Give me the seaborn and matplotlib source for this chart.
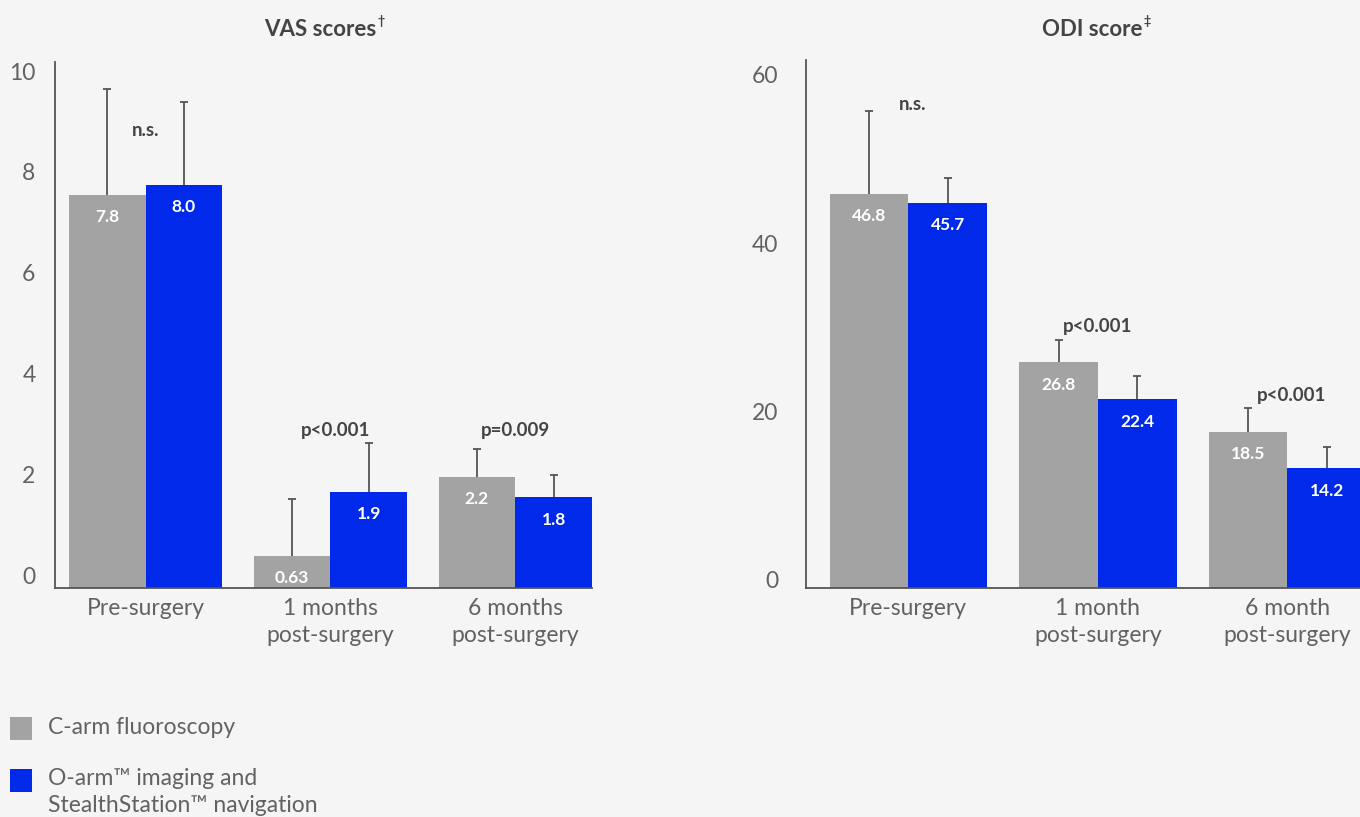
import numpy as np
import pandas as pd
import seaborn as sns
import matplotlib.pyplot as plt
from matplotlib.patches import Rectangle
from matplotlib.transforms import ScaledTranslation

sns.set_theme(style="white")
plt.rcParams["font.family"] = ["Lato", "DejaVu Sans"]

# ---- data -------------------------------------------------------------
groups = ["C-arm fluoroscopy", "O-arm\u2122 imaging and\nStealthStation\u2122 navigation"]

vas_periods = ["Pre-surgery", "1 months\npost-surgery", "6 months\npost-surgery"]
vas_carm = [7.8, 0.63, 2.2]
vas_oarm = [8.0, 1.9, 1.8]
vas_carm_err = [2.1, 1.13, 0.56]
vas_oarm_err = [1.65, 0.97, 0.45]
vas_pvalues = ["n.s.", "p<0.001", "p=0.009"]
vas_ticks = [0, 2, 4, 6, 8, 10]

odi_periods = ["Pre-surgery", "1 month\npost-surgery", "6 month\npost-surgery"]
odi_carm = [46.8, 26.8, 18.5]
odi_oarm = [45.7, 22.4, 14.2]
odi_carm_err = [9.9, 2.7, 2.9]
odi_oarm_err = [3.0, 2.8, 2.5]
odi_pvalues = ["n.s.", "p<0.001", "p<0.001"]
odi_ticks = [0, 20, 40, 60]

GRAY = "#a3a3a3"
BLUE = "#0029ea"
BG = "#f5f5f5"
INK = "#626262"
AXIS = "#555555"
DARK = "#444444"

W, H = 1360, 817
fig = plt.figure(figsize=(W / 100, H / 100), dpi=100)
fig.patch.set_facecolor(BG)


def fmt_value(v):
    s = f"{v:.2f}"
    return s[:-1] if s.endswith("0") else s


def draw_panel(ax, periods, carm, oarm, carm_err, oarm_err, pvals, p_pos,
               ticks, xlim, ylim, ytick_pad, ylabel_lift):
    df = pd.DataFrame({
        "period": periods * 2,
        "group": [groups[0]] * len(periods) + [groups[1]] * len(periods),
        "score": carm + oarm,
    })
    sns.barplot(data=df, x="period", y="score", hue="group",
                palette=[GRAY, BLUE], saturation=1, width=0.83,
                errorbar=None, legend=False, linewidth=0, ax=ax)
    ax.set_facecolor(BG)

    for container, errs in zip(ax.containers, [carm_err, oarm_err]):
        for bar, e in zip(container, errs):
            x = bar.get_x() + bar.get_width() / 2
            h = bar.get_height()
            eb = ax.errorbar(x, h, yerr=[[0], [e]], fmt="none", ecolor=AXIS,
                             elinewidth=1.3, capsize=3, capthick=1.3, zorder=1)
            # one-sided whisker: hide the cap sitting on the bar top
            eb[1][0].set_visible(False)
            ax.annotate(fmt_value(h), (x, h), xytext=(0, -16),
                        textcoords="offset points", ha="center", va="center",
                        color="white", fontsize=12.5, fontweight="bold",
                        clip_on=True)

    for i, (txt, (dx, y)) in enumerate(zip(pvals, p_pos)):
        ax.text(i + dx, y, txt, ha="center", va="center", color=DARK,
                fontsize=13.5, fontweight="bold")

    ax.set_xlim(*xlim)
    ax.set_ylim(*ylim)
    ax.set_yticks(ticks)
    ax.set_xlabel("")
    ax.set_ylabel("")
    ax.tick_params(axis="y", length=0, pad=ytick_pad, labelsize=16.5,
                   labelcolor=INK)
    ax.tick_params(axis="x", length=0, pad=7, labelsize=16.5, labelcolor=INK)
    for lab in ax.get_yticklabels():
        lab.set_transform(lab.get_transform() +
                          ScaledTranslation(0, ylabel_lift / 100,
                                            fig.dpi_scale_trans))
    for lab in ax.get_xticklabels():
        lab.set_linespacing(1.38)
    sns.despine(ax=ax)
    for side in ("left", "bottom"):
        ax.spines[side].set_color(AXIS)
        ax.spines[side].set_linewidth(1.3)


# VAS panel
ax1 = fig.add_axes([55 / W, (H - 588) / H, 537 / W, 526 / H])
draw_panel(ax1, vas_periods, vas_carm, vas_oarm, vas_carm_err, vas_oarm_err,
           vas_pvalues, [(0, 9.09), (0.03, 3.13), (0, 3.13)],
           vas_ticks, (-0.49, 2.415), (0, 10.44), 14, 13)

# ODI panel
ax2 = fig.add_axes([806 / W, (H - 588) / H, 554 / W, 528 / H])
draw_panel(ax2, odi_periods, odi_carm, odi_oarm, odi_carm_err, odi_oarm_err,
           odi_pvalues, [(0.02, 57.4), (0.0, 31.0), (0.02, 22.8)],
           odi_ticks, (-0.54, 2.383), (0, 62.7), 20, 8)


# titles with superscript marks
def title(xc, y, main, mark):
    t = fig.text(xc / W, (H - y) / H, main, ha="center", va="center",
                 fontsize=16, fontweight="bold", color=DARK)
    fig.canvas.draw()
    bb = t.get_window_extent()
    fig.text(bb.x1 / W + 1 / W, (H - y + 3) / H, mark, ha="left",
             va="bottom", fontsize=9, fontweight="bold", color=DARK)


title(320, 30, "VAS scores", "\u2020")
title(1092, 30, "ODI score", "\u2021")

# legend
fig.add_artist(Rectangle((10 / W, (H - 740) / H), 22 / W, 23 / H,
                         transform=fig.transFigure, color=GRAY, lw=0))
fig.text(48 / W, (H - 728) / H, groups[0], ha="left", va="center",
         fontsize=16.5, color=INK)
fig.add_artist(Rectangle((10 / W, (H - 792) / H), 22 / W, 23 / H,
                         transform=fig.transFigure, color=BLUE, lw=0))
fig.text(48 / W, (H - 792) / H, groups[1], ha="left", va="center",
         fontsize=16.5, color=INK, linespacing=1.3)

fig.savefig("out.png", dpi=100, facecolor=BG)
